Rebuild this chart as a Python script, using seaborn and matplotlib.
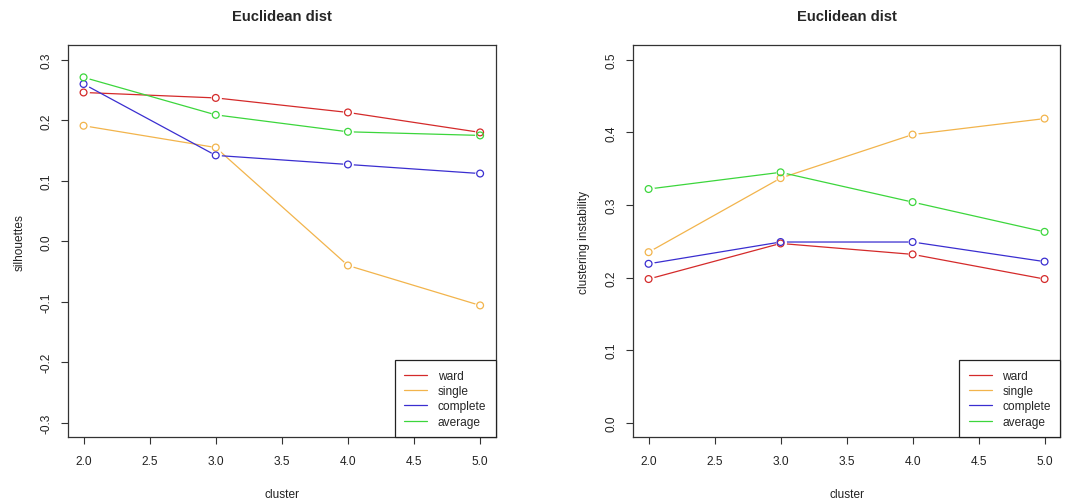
import matplotlib
matplotlib.use("Agg")
import matplotlib.pyplot as plt
import seaborn as sns
import pandas as pd

clusters = [2, 3, 4, 5]
methods = ["ward", "single", "complete", "average"]

sil_ward = [0.246, 0.237, 0.213, 0.180]
sil_single = [0.191, 0.155, -0.040, -0.106]
sil_complete = [0.260, 0.142, 0.127, 0.112]
sil_average = [0.271, 0.209, 0.181, 0.175]

inst_ward = [0.198, 0.247, 0.232, 0.198]
inst_single = [0.235, 0.337, 0.397, 0.419]
inst_complete = [0.219, 0.249, 0.249, 0.222]
inst_average = [0.322, 0.345, 0.304, 0.263]

x_ticks = [2.0, 2.5, 3.0, 3.5, 4.0, 4.5, 5.0]
sil_ticks = [-0.3, -0.2, -0.1, 0.0, 0.1, 0.2, 0.3]
inst_ticks = [0.0, 0.1, 0.2, 0.3, 0.4, 0.5]

colors = {"ward": "#D42A2A", "single": "#F2B44C", "complete": "#3A2ED0", "average": "#3CD63C"}

sns.set_theme(style="ticks")
plt.rcParams["font.family"] = ["Liberation Sans", "DejaVu Sans"]
plt.rcParams["font.size"] = 8.6


def long_df(values):
    rows = []
    for m, vals in zip(methods, values):
        for c, v in zip(clusters, vals):
            rows.append({"cluster": c, "value": v, "method": m})
    return pd.DataFrame(rows)


fig = plt.figure(figsize=(10.71, 5.02), dpi=100)
ax1 = fig.add_axes([0.0632, 0.1269, 0.3999, 0.7809])
ax2 = fig.add_axes([0.5908, 0.1269, 0.3993, 0.7809])

panels = [
    (ax1, long_df([sil_ward, sil_single, sil_complete, sil_average]), sil_ticks, (-0.324, 0.324), "silhouettes"),
    (ax2, long_df([inst_ward, inst_single, inst_complete, inst_average]), inst_ticks, (-0.02, 0.52), "clustering instability"),
]

for ax, df, yt, ylim, ylab in panels:
    sns.lineplot(data=df, x="cluster", y="value", hue="method", palette=colors,
                 hue_order=methods, ax=ax, linewidth=0.9, legend=False, zorder=2)
    # white halo to emulate R type="b" gaps
    sns.scatterplot(data=df, x="cluster", y="value", ax=ax, color="white",
                    s=60, linewidth=0, legend=False, zorder=3)
    sns.scatterplot(data=df, x="cluster", y="value", hue="method", palette=colors,
                    hue_order=methods, ax=ax, s=24, facecolor="none",
                    linewidth=0.9, legend=False, zorder=4, marker="o")
    coll = ax.collections[-1]
    coll.set_edgecolors(coll.get_facecolors())
    coll.set_facecolors("none")

    ax.set_xlim(1.88, 5.12)
    ax.set_ylim(*ylim)
    ax.set_xticks(x_ticks)
    ax.set_xticklabels([f"{t:.1f}" for t in x_ticks])
    ax.set_yticks(yt)
    ax.set_yticklabels([f"{t:.1f}" for t in yt], rotation=90, va="center")
    ax.tick_params(axis="x", pad=8)
    ax.tick_params(axis="y", pad=6)
    ax.tick_params(axis="both", direction="out", length=5, width=0.8, color="#333333",
                   labelsize=8.6, labelcolor="#222222")
    for sp in ax.spines.values():
        sp.set_visible(True)
        sp.set_color("#333333")
        sp.set_linewidth(0.9)
    ax.set_xlabel("cluster", fontsize=8.6, color="#222222", labelpad=15)
    ax.set_ylabel(ylab, fontsize=8.6, color="#222222", labelpad=11)
    ax.set_title("Euclidean dist", fontsize=10.6, fontweight="bold", pad=18)

    handles = [plt.Line2D([], [], color=colors[m], linewidth=0.9) for m in methods]
    leg = ax.legend(handles, methods, loc="lower right", borderaxespad=0,
                    fancybox=False, framealpha=1, edgecolor="#222222",
                    fontsize=8.6, handlelength=1.9, handletextpad=0.9,
                    labelspacing=0.28, borderpad=0.8)
    leg.get_frame().set_linewidth(0.9)

fig.savefig("out.png", dpi=100, facecolor="white")
